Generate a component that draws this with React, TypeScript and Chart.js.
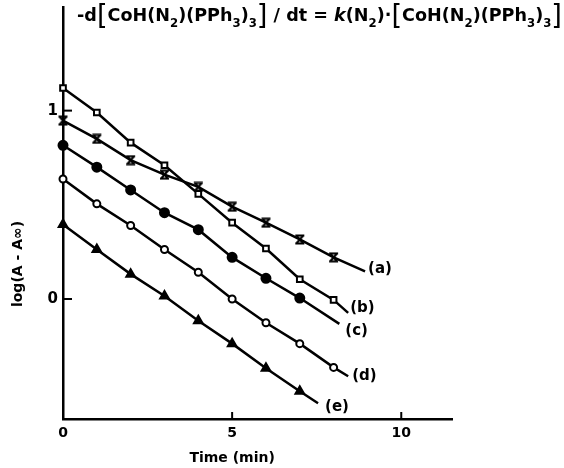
import React, { useEffect, useRef } from "react";
import { Chart, registerables } from "chart.js";
Chart.register(...registerables);

const TIME = [0, 1, 2, 3, 4, 5, 6, 7, 8];
const SERIES_A = [0.947, 0.85, 0.737, 0.66, 0.595, 0.49, 0.405, 0.316, 0.221];
const SERIES_B = [1.12, 0.99, 0.83, 0.71, 0.558, 0.405, 0.268, 0.105, -0.005];
const SERIES_C = [0.816, 0.7, 0.579, 0.458, 0.368, 0.221, 0.11, 0.005];
const SERIES_D = [0.637, 0.505, 0.39, 0.263, 0.142, 0.0, -0.126, -0.237, -0.363];
const SERIES_E = [0.395, 0.263, 0.132, 0.016, -0.116, -0.237, -0.368, -0.49];
const LINE_END_X = [8.93, 8.43, 8.17, 8.43, 7.54];
const LINE_END_Y = [0.147, -0.074, -0.132, -0.41, -0.553];
const SERIES_LABELS = ["(a)", "(b)", "(c)", "(d)", "(e)"];
const X_TICKS = [0, 5, 10];
const Y_TICKS = [0, 1];
const X_TITLE = "Time (min)";
const Y_TITLE = "log(A - A\u221E)";

const FONT = '"DejaVu Sans"';
// label nudges (px) relative to each line's end
const LABEL_NUDGE = [[3, -2], [2, -5], [6, 7], [4, 0], [7, 4]];

function makePoints(vals: number[], endX: number, endY: number) {
  return [...vals.map((y, i) => ({ x: TIME[i], y })), { x: endX, y: endY }];
}

function hourglass() {
  const c = document.createElement("canvas");
  c.width = 11;
  c.height = 11;
  const g = c.getContext("2d")!;
  g.strokeStyle = "#000";
  g.lineWidth = 2;
  g.beginPath();
  g.moveTo(1, 1.5); g.lineTo(10, 1.5);
  g.moveTo(1, 9.5); g.lineTo(10, 9.5);
  g.moveTo(2, 1.5); g.lineTo(9, 9.5);
  g.moveTo(9, 1.5); g.lineTo(2, 9.5);
  g.stroke();
  return c;
}

type Seg = [string, "n" | "s" | "b" | "i"];
const FORMULA: Seg[] = [
  ["-d", "n"], ["[", "b"], ["CoH(N", "n"], ["2", "s"], [")(PPh", "n"], ["3", "s"], [")", "n"], ["3", "s"], ["]", "b"],
  [" / dt = ", "n"], ["k", "i"], ["(N", "n"], ["2", "s"], [")\u00B7", "n"],
  ["[", "b"], ["CoH(N", "n"], ["2", "s"], [")(PPh", "n"], ["3", "s"], [")", "n"], ["3", "s"], ["]", "b"],
];

function segFont(k: string) {
  if (k === "s") return `bold 12px ${FONT}`;
  if (k === "b") return `normal 28px ${FONT}`;
  if (k === "i") return `italic bold 18px ${FONT}`;
  return `bold 18px ${FONT}`;
}

const annotPlugin = {
  id: "annot",
  afterDatasetsDraw(chart: any) {
    const ctx = chart.ctx as CanvasRenderingContext2D;
    const xs = chart.scales.x, ys = chart.scales.y;
    const area = chart.chartArea;
    ctx.save();
    ctx.strokeStyle = "#000";
    ctx.fillStyle = "#000";
    ctx.lineWidth = 2;
    // inward ticks
    X_TICKS.forEach((v) => {
      if (v === 0) return;
      const px = xs.getPixelForValue(v);
      ctx.beginPath(); ctx.moveTo(px, area.bottom); ctx.lineTo(px, area.bottom - 7); ctx.stroke();
    });
    Y_TICKS.forEach((v) => {
      const py = ys.getPixelForValue(v);
      ctx.beginPath(); ctx.moveTo(area.left, py); ctx.lineTo(area.left + 9, py); ctx.stroke();
    });
    // series labels
    ctx.font = `bold 15px ${FONT}`;
    ctx.textBaseline = "middle";
    ctx.textAlign = "left";
    chart.data.datasets.forEach((ds: any, i: number) => {
      const last = ds.data[ds.data.length - 1];
      const [dx, dy] = LABEL_NUDGE[i];
      ctx.fillText(SERIES_LABELS[i], xs.getPixelForValue(last.x) + dx, ys.getPixelForValue(last.y) + dy);
    });
    // axis titles
    ctx.font = `bold 14px ${FONT}`;
    ctx.textAlign = "center";
    ctx.fillText(X_TITLE, xs.getPixelForValue(5), 458);
    ctx.save();
    ctx.translate(18, 264);
    ctx.rotate(-Math.PI / 2);
    ctx.fillText(Y_TITLE, 0, 0);
    ctx.restore();
    // formula
    ctx.textAlign = "left";
    ctx.textBaseline = "alphabetic";
    let total = 0;
    const widths = FORMULA.map(([t, k]) => { ctx.font = segFont(k); const w = ctx.measureText(t).width; total += w; return w; });
    const x0 = 77, target = 485;
    ctx.save();
    ctx.translate(x0, 0);
    ctx.scale(target / total, 1);
    let x = 0;
    FORMULA.forEach(([t, k], i) => {
      ctx.font = segFont(k);
      const y = k === "s" ? 27 : k === "b" ? 25 : 21;
      ctx.fillText(t, x, y);
      x += widths[i];
    });
    ctx.restore();
    ctx.restore();
  },
};

export default function App() {
  const ref = useRef<HTMLCanvasElement>(null);
  useEffect(() => {
    const hg = hourglass();
    const base = { borderColor: "#000", borderWidth: 2.5, tension: 0, clip: false as any, pointBorderColor: "#000", pointBorderWidth: 2 };
    const radii = (n: number, r: number) => [...Array(n).fill(r), 0];
    const chart = new Chart(ref.current!, {
      type: "line",
      data: {
        datasets: [
          { ...base, data: makePoints(SERIES_A, LINE_END_X[0], LINE_END_Y[0]), pointStyle: hg as any, pointRadius: radii(SERIES_A.length, 5) },
          { ...base, data: makePoints(SERIES_B, LINE_END_X[1], LINE_END_Y[1]), pointStyle: "rect", pointBackgroundColor: "#fff", pointRadius: radii(SERIES_B.length, 4) },
          { ...base, data: makePoints(SERIES_C, LINE_END_X[2], LINE_END_Y[2]), pointStyle: "circle", pointBackgroundColor: "#000", pointRadius: radii(SERIES_C.length, 4.5) },
          { ...base, data: makePoints(SERIES_D, LINE_END_X[3], LINE_END_Y[3]), pointStyle: "circle", pointBackgroundColor: "#fff", pointRadius: radii(SERIES_D.length, 3.5) },
          { ...base, data: makePoints(SERIES_E, LINE_END_X[4], LINE_END_Y[4]), pointStyle: "triangle", pointBackgroundColor: "#000", pointRadius: radii(SERIES_E.length, 5) },
        ] as any,
      },
      options: {
        responsive: false,
        animation: false,
        devicePixelRatio: 1,
        layout: { padding: { top: -1, right: 112, left: 0, bottom: 0 } },
        plugins: { legend: { display: false }, tooltip: { enabled: false } },
        scales: {
          x: {
            type: "linear", min: 0, max: 11.5,
            afterBuildTicks: (a: any) => { a.ticks = X_TICKS.map((v) => ({ value: v })); },
            afterFit: (s: any) => { s.height = 49; s.paddingLeft = 0; s.paddingRight = 0; },
            grid: { display: true, drawOnChartArea: false, drawTicks: false },
            border: { display: true, color: "#000", width: 2.5 },
            ticks: { color: "#000", font: { family: FONT, weight: "bold", size: 14 }, padding: 6, maxRotation: 0 },
          },
          y: {
            type: "linear", min: -0.637, max: 1.55,
            afterBuildTicks: (a: any) => { a.ticks = Y_TICKS.map((v) => ({ value: v })); },
            afterFit: (s: any) => { s.width = 63; s.paddingTop = 0; s.paddingBottom = 0; },
            grid: { display: true, drawOnChartArea: false, drawTicks: false },
            border: { display: true, color: "#000", width: 2.5 },
            ticks: { color: "#000", font: { family: FONT, weight: "bold", size: 15 }, padding: 5 },
          },
        },
      } as any,
      plugins: [annotPlugin],
    });
    return () => chart.destroy();
  }, []);
  return (
    <div style={{ position: "fixed", left: 0, top: 0, width: 564, height: 468, background: "#fff" }}>
      <canvas ref={ref} width={564} height={468} style={{ display: "block" }} />
    </div>
  );
}
